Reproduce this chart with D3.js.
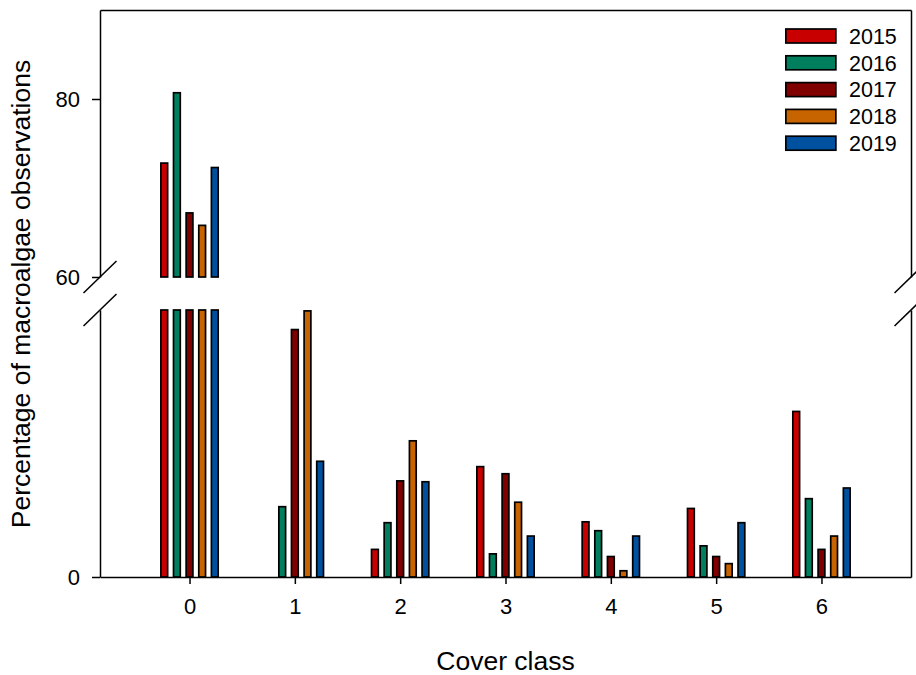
<!DOCTYPE html>
<html>
<head>
<meta charset="utf-8">
<script src="https://cdn.jsdelivr.net/npm/d3@7"></script>
<style>
  body { margin: 0; background: #fff; }
  svg text { font-family: "Liberation Sans", Arial, sans-serif; fill: #000; }
</style>
</head>
<body>
<div id="chart"></div>
<script>
// cover classes on the x axis
const classes = [0, 1, 2, 3, 4, 5, 6];
const years = ["2015", "2016", "2017", "2018", "2019"];

// percentage of observations per cover class, one array per year
const y2015 = [72.8, 0.0, 3.1, 12.4, 6.2, 7.7, 18.6];
const y2016 = [80.7, 7.9, 6.1, 2.6, 5.2, 3.5, 8.8];
const y2017 = [67.2, 27.8, 10.8, 11.6, 2.3, 2.3, 3.1];
const y2018 = [65.8, 29.9, 15.3, 8.4, 0.7, 1.5, 4.6];
const y2019 = [72.3, 13.0, 10.7, 4.6, 4.6, 6.1, 10.0];
const series = [y2015, y2016, y2017, y2018, y2019];

const colors = ["#c80000", "#007f5f", "#800000", "#c86400", "#0050a0"];

// broken axis: lower part 0-30, upper part 60-90
const lowDomain = [0, 30];
const highDomain = [60, 90];
const highTicks = [60, 80];
const lowTicks = [0];

const width = 916, height = 675;
const plotLeft = 100, plotRight = 911, plotTop = 10, plotBottom = 577;
const lowTop = 310, highBottom = 277;

const svg = d3.select("#chart").append("svg")
    .attr("width", width)
    .attr("height", height);

const x = d3.scaleLinear().domain([-0.85, 6.85]).range([plotLeft, plotRight]);
const xInner = d3.scaleBand().domain(years).range([-29.5, 29.5]).paddingInner(0.33);
const yLow = d3.scaleLinear().domain(lowDomain).range([plotBottom, lowTop]);
const yHigh = d3.scaleLinear().domain(highDomain).range([highBottom, plotTop]);

const sw = 1.7;

// bars
const rows = [];
series.forEach((vals, si) => {
    vals.forEach((v, ci) => {
        rows.push({ cls: classes[ci], year: years[si], value: v, color: colors[si] });
    });
});

const barX = d => x(d.cls) + xInner(d.year) + sw / 2;
const barW = xInner.bandwidth() - sw;

// lower segment
svg.append("g").selectAll("rect")
    .data(rows.filter(d => d.value > 0))
    .enter().append("rect")
    .attr("x", barX)
    .attr("width", barW)
    .attr("y", d => yLow(Math.min(d.value, lowDomain[1])))
    .attr("height", d => yLow(0) - yLow(Math.min(d.value, lowDomain[1])))
    .style("fill", d => d.color)
    .style("stroke", "#000")
    .style("stroke-width", sw);

// upper segment
svg.append("g").selectAll("rect")
    .data(rows.filter(d => d.value > highDomain[0]))
    .enter().append("rect")
    .attr("x", barX)
    .attr("width", barW)
    .attr("y", d => yHigh(d.value))
    .attr("height", d => yHigh(highDomain[0]) - yHigh(d.value))
    .style("fill", d => d.color)
    .style("stroke", "#000")
    .style("stroke-width", sw);

// axes
function styleAxis(g) {
    g.selectAll("path.domain").style("stroke", "#000").style("stroke-width", 1.5);
    g.selectAll(".tick line").style("stroke", "#000").style("stroke-width", 1.5);
    g.selectAll(".tick text").style("font-size", "22px").attr("fill", "#000");
}

svg.append("g")
    .attr("transform", `translate(${plotLeft},0)`)
    .call(d3.axisLeft(yHigh).tickValues(highTicks).tickSize(8).tickSizeOuter(0).tickPadding(12))
    .call(styleAxis);

svg.append("g")
    .attr("transform", `translate(${plotLeft},0)`)
    .call(d3.axisLeft(yLow).tickValues(lowTicks).tickSize(8).tickSizeOuter(0).tickPadding(12))
    .call(styleAxis);

svg.append("g")
    .attr("transform", `translate(${plotRight},0)`)
    .call(d3.axisRight(yHigh).tickValues([]).tickSizeOuter(0))
    .call(styleAxis);

svg.append("g")
    .attr("transform", `translate(${plotRight},0)`)
    .call(d3.axisRight(yLow).tickValues([]).tickSizeOuter(0))
    .call(styleAxis);

svg.append("g")
    .attr("transform", `translate(0,${plotTop})`)
    .call(d3.axisTop(x).tickValues([]).tickSizeOuter(0))
    .call(styleAxis);

svg.append("g")
    .attr("transform", `translate(0,${plotBottom})`)
    .call(d3.axisBottom(x).tickValues(classes).tickSize(7).tickSizeOuter(0).tickPadding(14))
    .call(styleAxis);

// break marks
const breaks = [];
[plotLeft, plotRight].forEach(bx => {
    breaks.push({ x: bx, y: yHigh(highDomain[0]) });
    breaks.push({ x: bx, y: yLow(lowDomain[1]) });
});
svg.append("g").selectAll("line")
    .data(breaks)
    .enter().append("line")
    .attr("x1", d => d.x - 16.5)
    .attr("y1", d => d.y + 16)
    .attr("x2", d => d.x + 16.5)
    .attr("y2", d => d.y - 16)
    .style("stroke", "#000")
    .style("stroke-width", 1.5);

// axis titles
svg.append("text")
    .attr("x", (plotLeft + plotRight) / 2)
    .attr("y", 670)
    .attr("text-anchor", "middle")
    .style("font-size", "26.5px")
    .text("Cover class");

svg.append("text")
    .attr("transform", "translate(30,294) rotate(-90)")
    .attr("text-anchor", "middle")
    .style("font-size", "26.5px")
    .text("Percentage of macroalgae observations");

// legend
const legend = svg.append("g").attr("transform", "translate(785,36)");
const items = legend.selectAll("g")
    .data(years)
    .enter().append("g")
    .attr("transform", (d, i) => `translate(0,${i * 26.8})`);

items.append("rect")
    .attr("x", sw / 2)
    .attr("y", -7)
    .attr("width", 50)
    .attr("height", 14)
    .style("fill", (d, i) => colors[i])
    .style("stroke", "#000")
    .style("stroke-width", sw);

items.append("text")
    .attr("x", 64)
    .attr("y", 0)
    .attr("dy", "0.36em")
    .style("font-size", "21.5px")
    .text(d => d);
</script>
</body>
</html>
